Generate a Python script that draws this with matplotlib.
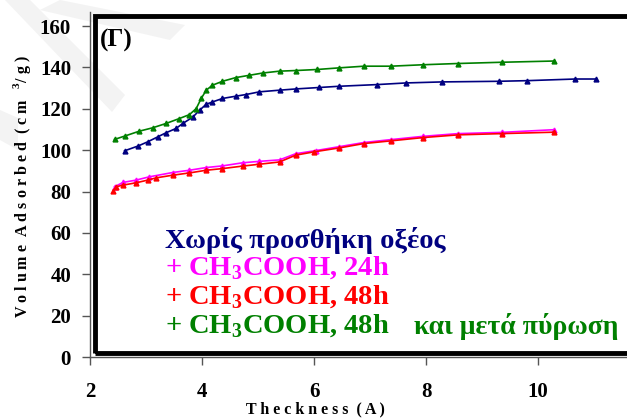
import matplotlib
matplotlib.use("Agg")
import matplotlib.pyplot as plt
from matplotlib.patches import Rectangle, Polygon

plt.rcParams['font.family'] = ['Liberation Serif', 'DejaVu Serif']
plt.rcParams['font.weight'] = 'bold'
plt.rcParams['mathtext.fontset'] = 'custom'
plt.rcParams['mathtext.rm'] = 'Liberation Serif:bold'
plt.rcParams['mathtext.bf'] = 'Liberation Serif:bold'

# no acid
x_blue = [2.61, 2.85, 3.02, 3.2, 3.35, 3.53, 3.65, 3.83, 3.95, 4.07, 4.18, 4.36,
          4.6, 4.78, 5.02, 5.38, 5.67, 6.09, 6.45, 7.12, 7.64, 8.29, 9.3, 9.8, 10.67, 11.03]
y_blue = [99.7, 102, 104, 106.4, 108.4, 110.5, 112.9, 116, 119.3, 122.2, 123.3, 125,
          126.1, 126.9, 128.2, 129, 129.6, 130.3, 130.9, 131.7, 132.5, 133, 133.3, 133.6, 134.4, 134.4]

# + CH3COOH 24h
x_mag = [2.43, 2.58, 2.81, 3.05, 3.47, 3.77, 4.07, 4.36, 4.72, 5.02, 5.38, 5.67,
         6.03, 6.45, 6.89, 7.37, 7.95, 8.57, 9.35, 10.29]
y_mag = [82.3, 84.4, 85.5, 87.1, 89.2, 90.3, 91.6, 92.4, 93.9, 94.6, 95.3, 98.3,
         99.8, 101.7, 103.7, 105.1, 106.7, 108, 108.6, 109.9]

# + CH3COOH 48h
x_red = [2.41, 2.46, 2.58, 2.81, 3.02, 3.17, 3.47, 3.77, 4.07, 4.36, 4.72, 5.02,
         5.38, 5.67, 6.0, 6.45, 6.89, 7.37, 7.95, 8.57, 9.35, 10.29]
y_red = [80.4, 82.3, 83.1, 84.2, 85.5, 86.6, 87.9, 89, 90.3, 91.1, 92.3, 93.2,
         94.3, 97.6, 99.2, 101.1, 103.2, 104.5, 106.1, 107.4, 108, 108.7]

# + CH3COOH 48h, calcined
x_green = [2.43, 2.61, 2.875, 3.11, 3.35, 3.59, 3.77, 3.89, 3.98, 4.07, 4.18, 4.36,
           4.6, 4.84, 5.08, 5.38, 5.67, 6.05, 6.45, 6.89, 7.37, 7.95, 8.57, 9.35, 10.29]
y_green = [105.2, 106.8, 109.2, 110.8, 112.9, 115.3, 117.2, 120.1, 125, 129, 131.4, 133.3,
           135.1, 136.2, 137.3, 138.2, 138.5, 139, 139.8, 140.6, 140.6, 141.3, 141.9, 142.5, 143.1]

labels = ['Χωρίς προσθήκη οξέος',
          r'+ CH$_{3}$COOH, 24h',
          r'+ CH$_{3}$COOH, 48h',
          r'+ CH$_{3}$COOH, 48h']
colors = ['#000080', '#FF00FF', '#FF0000', '#008000']

fig = plt.figure(figsize=(6.27, 4.18), dpi=100)

# faint watermark stripes in the top-left corner
W, H = 627.0, 418.0
def px(pts):
    return [(x / W, 1 - y / H) for x, y in pts]
for poly in [[(5, 0), (30, 0), (125, 95), (112, 112)],
             [(40, 10), (60, 0), (185, 25), (170, 40)],
             [(0, 110), (0, 140), (18, 150), (18, 118)]]:
    fig.patches.append(Polygon(px(poly), closed=True, transform=fig.transFigure,
                               fc='#f3f3f3', ec='none', zorder=-5))

ax = fig.add_axes([0.1443, 0.1459, 0.876, 0.8254])
ax.set_facecolor('none')

series = [(x_blue, y_blue), (x_mag, y_mag), (x_red, y_red), (x_green, y_green)]
for (xs, ys), c in zip(series, colors):
    ax.plot(xs, ys, color=c, lw=1.2, marker='^', ms=3.5)

ax.set_xlim(2, 11.82)
ax.set_ylim(0, 166.8)
ax.set_xticks(range(2, 12, 2))
ax.set_yticks(range(0, 161, 20))
for s in ['top', 'right']:
    ax.spines[s].set_visible(False)
for s in ['left', 'bottom']:
    ax.spines[s].set_color('#555555')
    ax.spines[s].set_linewidth(1.0)
ax.tick_params(direction='out', length=6, width=1, color='#555555', labelsize=15)
ax.tick_params(axis='y', pad=8)
ax.tick_params(axis='x', pad=12)

# thick plot-area frame
ax.add_patch(Rectangle((0.008, 0.012), 1.2, 0.975, transform=ax.transAxes,
                       fill=False, lw=3.5, ec='black', clip_on=False, zorder=5))

ax.text(0.018, 0.95, '(Γ)', transform=ax.transAxes, fontsize=18,
        fontweight='bold', va='top', ha='left')

ys_txt = [240, 268, 297, 326]
for lab, c, yp in zip(labels, colors, ys_txt):
    fig.text(165 / W, 1 - yp / H, lab, color=c, fontsize=20.5,
             fontweight='bold', va='center', ha='left')
fig.text(414 / W, 1 - 327 / H, 'και μετά πύρωση', color='#008000',
         fontsize=20, fontweight='bold', va='center', ha='left')

fig.text(22 / W, 1 - 186 / H, r'V o l u m e  A d s o r b e d  ( c m   $^{3}$/ g )',
         rotation=90, fontsize=11.5, fontweight='bold', va='center', ha='center')
fig.text(315 / W, 1 - 409 / H, 'T h e c k n e s s  ( A )', fontsize=11.5,
         fontweight='bold', va='center', ha='center')

fig.savefig('out.png', dpi=100)
